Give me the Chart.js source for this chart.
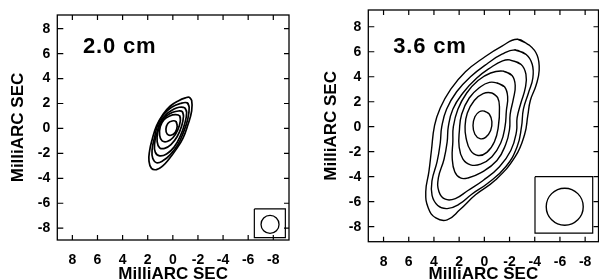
<!DOCTYPE html>
<html><head><meta charset="utf-8">
<script src="https://cdn.jsdelivr.net/npm/chart.js@4.4.1/dist/chart.umd.min.js"></script>
<style>
html,body{margin:0;padding:0;background:#fff;width:599px;height:280px;overflow:hidden;}
#c1{position:absolute;left:0;top:0;}
#c2{position:absolute;left:300px;top:0;}
</style></head><body>
<canvas id="c1" width="300" height="280"></canvas>
<canvas id="c2" width="299" height="280"></canvas>
<script>
// ---- data ----
const tickValues = [-8, -6, -4, -2, 0, 2, 4, 6, 8];
const axisTitle = 'MilliARC SEC';
const panelLabels = ['2.0 cm', '3.6 cm'];

// 2.0 cm contours (x, y in milliarcsec)
const lc1 = [[-1.3,2.5],[-1.5,2.25],[-1.5,1.4],[-1.2,0.3],[-0.8,-0.8],[-0.25,-1.7],[0.3,-2.45],[0.8,-3.0],[1.3,-3.3],[1.7,-3.2],[1.9,-2.6],[1.85,-1.8],[1.65,-0.9],[1.3,0.2],[0.8,1.1],[0.2,1.8],[-0.5,2.25],[-1.0,2.45]];
const lc2 = [[-1.15,2.05],[-1.3,1.7],[-1.2,0.8],[-0.85,-0.3],[-0.4,-1.3],[0.2,-2.1],[0.8,-2.6],[1.3,-2.75],[1.6,-2.4],[1.65,-1.7],[1.45,-0.7],[1.2,0.3],[0.75,1.1],[0.1,1.7],[-0.6,2.0]];
const lc3 = [[-0.95,1.65],[-1.1,1.3],[-0.95,0.4],[-0.6,-0.6],[-0.1,-1.5],[0.5,-2.05],[1.05,-2.2],[1.4,-1.9],[1.45,-1.2],[1.25,-0.3],[1.0,0.5],[0.55,1.1],[0.0,1.5],[-0.5,1.7]];
const lc4 = [[-0.75,1.35],[-0.85,1.0],[-0.7,0.2],[-0.35,-0.65],[0.15,-1.3],[0.65,-1.6],[1.05,-1.55],[1.25,-1.05],[1.2,-0.3],[0.95,0.45],[0.5,1.0],[0.0,1.3],[-0.45,1.4]];
const lc5 = [[-0.55,1.0],[-0.6,0.6],[-0.4,-0.1],[0.0,-0.75],[0.45,-1.05],[0.85,-1.0],[1.05,-0.55],[1.0,0.15],[0.7,0.7],[0.25,1.0],[-0.2,1.1]];
const lc6 = [[-0.25,0.55],[-0.35,0.2],[-0.2,-0.3],[0.15,-0.55],[0.45,-0.45],[0.55,-0.05],[0.4,0.4],[0.05,0.6]];

// 3.6 cm contours
const rc1 = [[-2.6,7.0],[-3.6,6.5],[-4.2,5.7],[-4.35,4.5],[-4.1,3.3],[-3.65,2.1],[-3.45,0.9],[-3.2,-0.6],[-2.45,-2.4],[-0.9,-4.25],[0.7,-5.45],[1.95,-6.65],[2.95,-7.45],[3.85,-7.3],[4.45,-6.5],[4.65,-5.2],[4.4,-3.6],[4.2,-1.9],[3.95,0.1],[3.5,1.5],[2.7,2.95],[1.5,4.4],[-0.05,5.6],[-1.4,6.45]];
const rc2 = [[-2.4,6.15],[-3.3,5.8],[-3.8,5.0],[-3.85,3.9],[-3.5,2.7],[-3.1,1.4],[-2.95,0.0],[-2.6,-1.6],[-1.7,-3.2],[-0.3,-4.5],[1.0,-5.4],[2.0,-6.2],[2.95,-6.55],[3.7,-6.3],[4.15,-5.5],[4.15,-4.3],[3.75,-2.8],[3.5,-1.3],[3.38,0.0],[3.0,1.4],[2.2,2.8],[1.1,4.0],[-0.3,5.1],[-1.4,5.8]];
const rc3 = [[-2.0,5.35],[-2.9,5.0],[-3.3,4.2],[-3.25,3.1],[-2.9,1.9],[-2.6,0.7],[-2.55,-0.4],[-2.1,-1.9],[-1.2,-3.2],[0.1,-4.3],[1.3,-5.1],[2.3,-5.75],[3.1,-5.8],[3.6,-5.2],[3.65,-4.1],[3.2,-2.6],[2.95,-1.2],[2.86,0.0],[2.5,1.4],[1.7,2.7],[0.6,3.9],[-0.6,4.8],[-1.4,5.25]];
const rc4 = [[-1.5,4.45],[-2.2,4.1],[-2.45,3.3],[-2.3,2.2],[-2.05,1.0],[-2.0,-0.2],[-1.7,-1.4],[-1.0,-2.7],[0.3,-3.7],[1.3,-4.1],[1.9,-4.1],[2.35,-3.6],[2.55,-2.5],[2.5,-1.2],[2.46,0.0],[2.1,1.4],[1.4,2.7],[0.5,3.7],[-0.5,4.3]];
const rc5 = [[-1.0,3.5],[-1.6,3.2],[-1.85,2.4],[-1.75,1.3],[-1.64,0.0],[-1.3,-1.3],[-0.6,-2.4],[0.3,-3.0],[1.1,-3.05],[1.7,-2.6],[2.0,-1.6],[1.98,-0.3],[1.8,1.0],[1.2,2.3],[0.3,3.2],[-0.4,3.55]];
const rc6 = [[-0.6,2.7],[-1.05,2.35],[-1.2,1.5],[-1.11,0.0],[-0.8,-1.2],[-0.2,-2.05],[0.5,-2.3],[1.1,-1.9],[1.45,-0.9],[1.53,0.0],[1.35,1.1],[0.8,2.1],[0.1,2.65]];
const rc7 = [[0.0,1.25],[-0.4,1.0],[-0.6,0.4],[-0.5,-0.3],[-0.1,-0.85],[0.35,-0.95],[0.75,-0.6],[0.9,0.1],[0.75,0.8],[0.4,1.2]];

// restoring beams: box corners and circle centre
const beamBoxL = [[-6.49,-6.46],[-8.96,-6.46],[-8.96,-8.76],[-6.49,-8.76]];
const beamCenterL = [-7.74, -7.7];
const beamBoxR = [[-4.02,-4.0],[-8.6,-4.0],[-8.6,-8.52],[-4.02,-8.52]];
const beamCenterR = [-6.38, -6.4];

// ---- helpers ----
function loop(arr) {
  const pts = arr.map(p => ({x: p[0], y: p[1]}));
  pts.push({x: arr[0][0], y: arr[0][1]});
  pts.push({x: arr[1][0], y: arr[1][1]});
  return pts;
}
function contourSet(arr, w) {
  return { data: loop(arr), showLine: true, borderColor: '#000', borderWidth: w,
    pointRadius: 0, tension: 0.45, fill: false };
}
function boxSet(arr, w) {
  const pts = arr.map(p => ({x: p[0], y: p[1]}));
  pts.push({x: arr[0][0], y: arr[0][1]});
  return { data: pts, showLine: true, borderColor: '#000', borderWidth: w,
    pointRadius: 0, tension: 0, fill: false };
}
function beamSet(c, r, w) {
  return { data: [{x: c[0], y: c[1]}], showLine: false, pointStyle: 'circle',
    pointRadius: r, pointBorderWidth: w, pointBorderColor: '#000',
    pointBackgroundColor: 'rgba(0,0,0,0)', borderColor: '#000', backgroundColor: 'rgba(0,0,0,0)' };
}

const FONT = '"Liberation Sans", Arial, Helvetica, sans-serif';

const framePlugin = {
  id: 'frame',
  afterDraw(chart, args, opts) {
    const {ctx, chartArea: a, scales: {x, y}} = chart;
    ctx.save();
    ctx.strokeStyle = '#000';
    ctx.lineWidth = 1.3;
    ctx.strokeRect(a.left, a.top, a.right - a.left, a.bottom - a.top);
    ctx.lineWidth = 1.2;
    ctx.beginPath();
    x.ticks.forEach(t => {
      const px = x.getPixelForValue(t.value);
      ctx.moveTo(px, a.bottom); ctx.lineTo(px, a.bottom - 5);
      ctx.moveTo(px, a.top); ctx.lineTo(px, a.top + 5);
    });
    y.ticks.forEach(t => {
      const py = y.getPixelForValue(t.value);
      ctx.moveTo(a.left, py); ctx.lineTo(a.left + 6, py);
      ctx.moveTo(a.right, py); ctx.lineTo(a.right - 5, py);
    });
    ctx.stroke();
    ctx.fillStyle = '#000';
    ctx.font = 'bold 22px ' + FONT;
    try { ctx.letterSpacing = '0.8px'; } catch (e) {}
    ctx.textAlign = 'left';
    ctx.textBaseline = 'alphabetic';
    ctx.fillText(opts.label, x.getPixelForValue(opts.lx), y.getPixelForValue(opts.ly));
    ctx.restore();
  }
};

function noPad(s) { s.paddingTop = 0; s.paddingBottom = 0; s.paddingLeft = 0; s.paddingRight = 0; }

function makeChart(id, datasets, cfg) {
  return new Chart(document.getElementById(id), {
    type: 'scatter',
    data: { datasets },
    options: {
      responsive: false, animation: false, events: [],
      layout: { autoPadding: false, padding: { left: 0, top: cfg.top, right: cfg.right, bottom: 0 } },
      plugins: { legend: { display: false }, tooltip: { enabled: false },
        frame: { label: cfg.label, lx: cfg.lx, ly: cfg.ly } },
      scales: {
        x: {
          type: 'linear', reverse: true, min: cfg.xmin, max: cfg.xmax,
          afterFit: s => { s.height = cfg.xh; noPad(s); },
          afterBuildTicks: s => { s.ticks = tickValues.map(v => ({value: v})); },
          grid: { display: false, drawTicks: false }, border: { display: false },
          ticks: { color: '#000', padding: 12, maxRotation: 0, autoSkip: false,
            font: { family: FONT, size: 14, weight: 'bold' } },
          title: { display: true, text: axisTitle, color: '#000', padding: { top: 0, bottom: -3 },
            font: { family: FONT, size: 17, weight: 'bold', lineHeight: 1 } }
        },
        y: {
          type: 'linear', min: cfg.ymin, max: cfg.ymax,
          afterFit: s => { s.width = cfg.yw; noPad(s); },
          afterBuildTicks: s => { s.ticks = tickValues.map(v => ({value: v})); },
          grid: { display: false, drawTicks: false }, border: { display: false },
          ticks: { color: '#000', padding: 7, autoSkip: false,
            font: { family: FONT, size: 14, weight: 'bold' } },
          title: { display: true, text: axisTitle, color: '#000', padding: { top: cfg.ytp, bottom: 0 },
            font: { family: FONT, size: 17, weight: 'bold', lineHeight: 1 } }
        }
      }
    },
    plugins: [framePlugin]
  });
}

makeChart('c1',
  [lc1, lc2, lc3, lc4, lc5, lc6].map(c => contourSet(c, 1.7))
    .concat([boxSet(beamBoxL, 1.2), beamSet(beamCenterL, 9, 1.3)]),
  { top: 15, right: 11, yw: 57.3, xh: 40, xmin: -9.25, xmax: 9.2, ymin: -8.95, ymax: 9.1,
    ytp: 10, label: panelLabels[0], lx: 7.15, ly: 6.03 });

makeChart('c2',
  [rc1, rc2, rc3, rc4, rc5, rc6, rc7].map(c => contourSet(c, 1.4))
    .concat([boxSet(beamBoxR, 1.2), beamSet(beamCenterR, 18.5, 1.4)]),
  { top: 10, right: 0.5, yw: 68.3, xh: 38.3, xmin: -9.06, xmax: 9.21, ymin: -9.2, ymax: 9.34,
    ytp: 23.2, label: panelLabels[1], lx: 7.23, ly: 5.88 });
</script>
</body></html>
